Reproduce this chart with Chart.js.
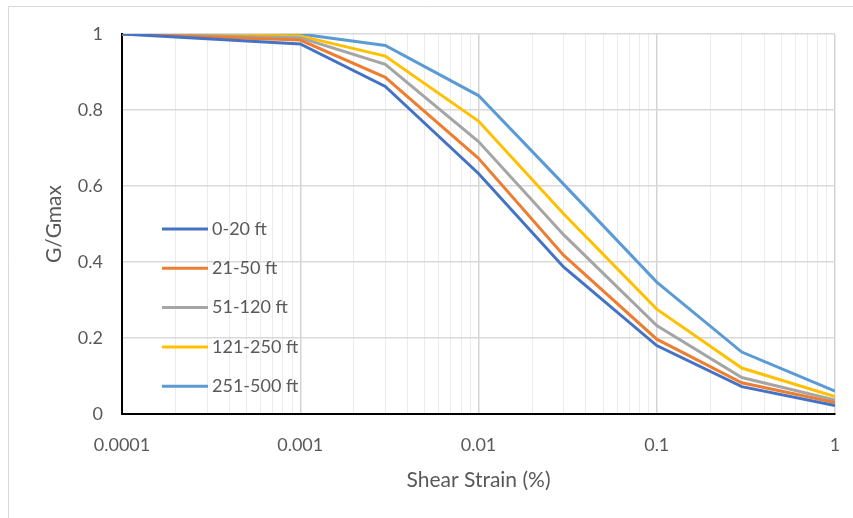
<!DOCTYPE html>
<html>
<head>
<meta charset="utf-8">
<title>G/Gmax vs Shear Strain</title>
<script src="https://cdn.jsdelivr.net/npm/chart.js@4"></script>
<style>
  html, body { margin: 0; padding: 0; background: #fff; }
  canvas { display: block; }
</style>
</head>
<body>
<canvas id="modulusChart" width="853" height="518"></canvas>
<script>
// shear strain (%) at each point
const strain = [0.0001, 0.001, 0.003, 0.01, 0.03, 0.1, 0.3, 1];

// G/Gmax by depth range
const depth0to20 = [1, 0.974, 0.862, 0.633, 0.387, 0.180, 0.072, 0.022];
const depth21to50 = [1, 0.984, 0.886, 0.673, 0.418, 0.197, 0.082, 0.030];
const depth51to120 = [1, 0.990, 0.920, 0.717, 0.472, 0.233, 0.096, 0.037];
const depth121to250 = [1, 0.995, 0.942, 0.771, 0.527, 0.276, 0.121, 0.046];
const depth251to500 = [1, 1.000, 0.970, 0.838, 0.605, 0.347, 0.163, 0.060];

const seriesLabels = ["0-20 ft", "21-50 ft", "51-120 ft", "121-250 ft", "251-500 ft"];
const seriesColors = ["#4472C4", "#ED7D31", "#A5A5A5", "#FFC000", "#5B9BD5"];

// labelled decades on the x axis
const xTickValues = [0.0001, 0.001, 0.01, 0.1, 1];
const xTickLabels = ["0.0001", "0.001", "0.01", "0.1", "1"];
const yTickLabels = ["0", "0.2", "0.4", "0.6", "0.8", "1"];

const FONT = "Lato, 'Open Sans', sans-serif";
const TEXT = "#595959";

// 1..9 x each decade for minor gridlines
const gridValues = [];
for (let e = -4; e < 0; e++) {
  for (let m = 1; m <= 9; m++) gridValues.push(+(m * Math.pow(10, e)).toPrecision(3));
}
gridValues.push(1);

const isMajor = v => xTickValues.some(t => Math.abs(t - v) / t < 1e-6);

const toPoints = ys => strain.map((x, i) => ({ x: x, y: ys[i] }));
const allSeries = [depth0to20, depth21to50, depth51to120, depth121to250, depth251to500];

const frame = {
  id: "frame",
  beforeDraw(chart) {
    const c = chart.ctx;
    c.save();
    c.strokeStyle = "#d9d9d9";
    c.lineWidth = 1;
    c.beginPath();
    c.moveTo(8.5, chart.height);
    c.lineTo(8.5, 6.5);
    c.lineTo(chart.width, 6.5);
    c.stroke();
    c.restore();
  }
};

const insideLegend = {
  id: "insideLegend",
  afterDatasetsDraw(chart) {
    const c = chart.ctx;
    const a = chart.chartArea;
    const x0 = a.left + 40;
    const y0 = a.top + 195;
    const step = 39.3;
    c.save();
    c.font = "18px " + FONT;
    c.textBaseline = "middle";
    chart.data.datasets.forEach((ds, i) => {
      const y = y0 + i * step;
      c.strokeStyle = ds.borderColor;
      c.lineWidth = 3;
      c.beginPath();
      c.moveTo(x0, y);
      c.lineTo(x0 + 46, y);
      c.stroke();
      c.fillStyle = TEXT;
      c.fillText(ds.label, x0 + 50, y);
    });
    c.restore();
  }
};

new Chart(document.getElementById("modulusChart").getContext("2d"), {
  type: "line",
  data: {
    datasets: allSeries.map((ys, i) => ({
      label: seriesLabels[i],
      data: toPoints(ys),
      borderColor: seriesColors[i],
      backgroundColor: seriesColors[i],
      borderWidth: 3,
      pointRadius: 0,
      tension: 0
    }))
  },
  options: {
    responsive: false,
    animation: false,
    layout: { padding: { left: 0, right: 18, top: 34, bottom: 0 } },
    plugins: {
      legend: { display: false },
      tooltip: { enabled: false }
    },
    scales: {
      x: {
        type: "logarithmic",
        min: 0.0001,
        max: 1,
        afterBuildTicks: scale => {
          scale.ticks = gridValues.map(v => ({ value: v, major: isMajor(v) }));
        },
        afterFit: scale => {
          scale.height = 104;
          scale.paddingLeft = 0;
          scale.paddingRight = 0;
        },
        ticks: {
          autoSkip: false,
          maxRotation: 0,
          padding: 20,
          color: TEXT,
          font: { family: FONT, size: 18 },
          callback: value => {
            const i = xTickValues.findIndex(t => Math.abs(t - value) / t < 1e-6);
            return i >= 0 ? xTickLabels[i] : "";
          }
        },
        grid: {
          drawTicks: false,
          color: ctx => (ctx.tick && isMajor(ctx.tick.value)) ? "#d4d4d4" : "#ebebeb",
          lineWidth: ctx => (ctx.tick && isMajor(ctx.tick.value)) ? 1.5 : 1
        },
        border: { color: "#000", width: 2 },
        title: {
          display: true,
          text: "Shear Strain (%)",
          color: TEXT,
          font: { family: FONT, size: 21 },
          padding: { top: 0, bottom: 25 }
        }
      },
      y: {
        min: 0,
        max: 1,
        afterFit: scale => { scale.width = 122; },
        ticks: {
          stepSize: 0.2,
          padding: 19,
          color: TEXT,
          font: { family: FONT, size: 18 },
          callback: (value, i) => yTickLabels[i]
        },
        grid: { drawTicks: false, color: "#d9d9d9", lineWidth: 1.5 },
        border: { color: "#000", width: 2 },
        title: {
          display: true,
          text: "G/Gmax",
          color: TEXT,
          font: { family: FONT, size: 21 },
          padding: { top: 42, bottom: 0 }
        }
      }
    }
  },
  plugins: [frame, insideLegend]
});
</script>
</body>
</html>
